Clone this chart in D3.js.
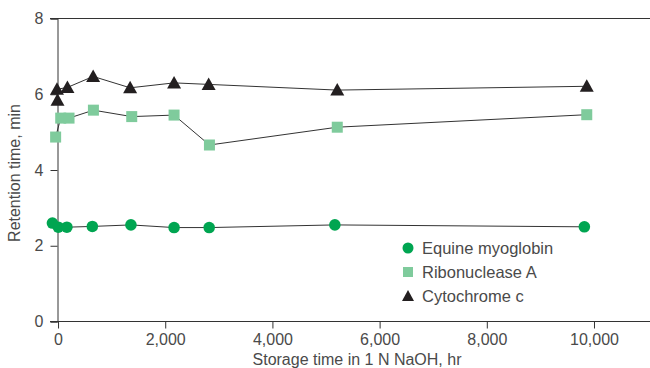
<!DOCTYPE html>
<html>
<head>
<meta charset="utf-8">
<script src="https://cdn.jsdelivr.net/npm/d3@7"></script>
<style>
  body { margin: 0; background: #fff; }
  svg text { font-family: "Liberation Sans", Arial, sans-serif; fill: #4a4a4a; }
</style>
</head>
<body>
<div id="chart"></div>
<script>
// storage time (hr) and retention time (min)
const myoHours = [-105, 5, 165, 640, 1360, 2165, 2820, 5165, 9820];
const myoValues = [2.6, 2.49, 2.49, 2.51, 2.55, 2.48, 2.48, 2.55, 2.5];

const ribHours = [-45, 50, 205, 660, 1375, 2165, 2825, 5210, 9865];
const ribValues = [4.87, 5.37, 5.37, 5.58, 5.41, 5.45, 4.66, 5.13, 5.46];

const cytHours = [-10, -20, 175, 655, 1345, 2165, 2810, 5210, 9865];
const cytValues = [5.84, 6.13, 6.18, 6.47, 6.17, 6.3, 6.26, 6.11, 6.21];

const xTicks = [0, 2000, 4000, 6000, 8000, 10000];
const yTicks = [0, 2, 4, 6, 8];

const series = [
  { name: 'Equine myoglobin', shape: 'circle', color: '#00a551', x: myoHours, y: myoValues },
  { name: 'Ribonuclease A', shape: 'square', color: '#7fcb9c', x: ribHours, y: ribValues },
  { name: 'Cytochrome c', shape: 'triangle', color: '#231f20', x: cytHours, y: cytValues }
];

const width = 650, height = 368;
const svg = d3.select('#chart').append('svg')
  .attr('width', width).attr('height', height);

const x = d3.scaleLinear().domain([-150, 11045]).range([50, 650]);
const y = d3.scaleLinear().domain([0, 8]).range([321.5, 18.5]);

// frame: top line and left axis
svg.append('line')
  .attr('x1', 50).attr('x2', 650).attr('y1', y(8)).attr('y2', y(8))
  .attr('stroke', '#333').attr('stroke-width', 1);

const yAxis = svg.append('g')
  .attr('transform', `translate(${Math.round(x(0)) - 0.5},0)`)
  .call(d3.axisLeft(y).tickValues(yTicks).tickSize(7).tickPadding(7).tickFormat(d3.format('d')));
yAxis.select('.domain').attr('stroke', '#333');
yAxis.selectAll('.tick line').attr('stroke', '#333');
yAxis.selectAll('.tick text').style('font-size', '16px').attr('fill', '#4a4a4a');

const xAxis = svg.append('g')
  .attr('transform', `translate(0,${y(0)})`)
  .call(d3.axisBottom(x).tickValues(xTicks).tickSize(7).tickPadding(5).tickFormat(d3.format(',')));
xAxis.select('.domain').attr('d', `M50,0H650`).attr('stroke', '#333');
xAxis.selectAll('.tick line').attr('stroke', '#333');
xAxis.selectAll('.tick text').style('font-size', '16px').attr('fill', '#4a4a4a');

svg.append('text')
  .attr('x', 357).attr('y', 365)
  .attr('text-anchor', 'middle')
  .style('font-size', '16px')
  .text('Storage time in 1 N NaOH, hr');

svg.append('text')
  .attr('transform', 'translate(20,173) rotate(-90)')
  .attr('text-anchor', 'middle')
  .style('font-size', '16px')
  .text('Retention time, min');

const line = d3.line().x(d => x(d[0])).y(d => y(d[1]));

function marker(g, shape, color) {
  if (shape === 'circle') {
    g.append('circle').attr('r', 5.8).attr('fill', color);
  } else if (shape === 'square') {
    g.append('rect').attr('x', -5.5).attr('y', -5.5).attr('width', 11).attr('height', 11).attr('fill', color);
  } else {
    g.append('path').attr('d', 'M0,-7L7,5.5L-7,5.5Z').attr('fill', color);
  }
}

series.forEach(s => {
  const pts = s.x.map((h, i) => [h, s.y[i]]);
  svg.append('path')
    .attr('d', line(pts))
    .attr('fill', 'none')
    .attr('stroke', '#333')
    .attr('stroke-width', 1);
  pts.forEach(p => {
    const g = svg.append('g').attr('transform', `translate(${x(p[0])},${y(p[1])})`);
    marker(g, s.shape, s.color);
  });
});

// legend
const legend = svg.append('g').attr('transform', 'translate(408,248)');
series.forEach((s, i) => {
  const g = legend.append('g').attr('transform', `translate(0,${i * 24})`);
  const m = g.append('g');
  if (s.shape === 'circle') m.append('circle').attr('r', 5.5).attr('fill', s.color);
  else if (s.shape === 'square') m.append('rect').attr('x', -5).attr('y', -5).attr('width', 10).attr('height', 10).attr('fill', s.color);
  else m.append('path').attr('d', 'M0,-6L6,5L-6,5Z').attr('fill', s.color);
  g.append('text').attr('x', 14).attr('y', 6)
    .style('font-size', '16.5px')
    .text(s.name);
});
</script>
</body>
</html>
